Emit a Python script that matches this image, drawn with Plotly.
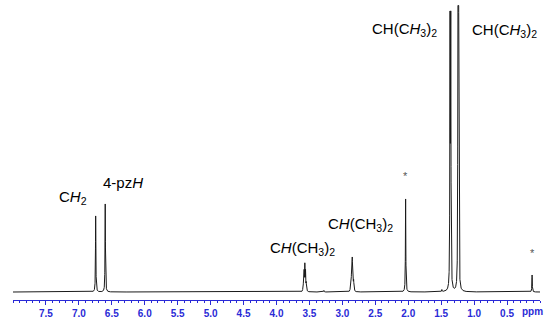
import numpy as np
import plotly.graph_objects as go

# ---- data (ppm, height of each line in arbitrary units) ----
peak_shift = [6.745, 6.600, 3.570, 2.850, 2.040, 1.360, 1.240, 0.120, 3.280, 1.490, 5.620]
peak_height = [76, 88, 25, 30, 93, 257, 262, 17, 1.5, 2.0, 0.6]
peak_mult = [1, 1, 7, 7, 1, 2, 2, 1, 1, 1, 1]   # 7 = septet, 2 = doublet
coupling_ppm = [0, 0, 0.0105, 0.0105, 0, 0.0110, 0.0110, 0, 0, 0, 0]
tick_vals = [7.5, 7.0, 6.5, 6.0, 5.5, 5.0, 4.5, 4.0, 3.5, 3.0, 2.5, 2.0, 1.5, 1.0, 0.5]
tick_text = ["7.5", "7.0", "6.5", "6.0", "5.5", "5.0", "4.5", "4.0", "3.5", "3.0", "2.5", "2.0", "1.5", "1.0", "0.5"]

labels = [
    ("C<i>H</i><sub>2</sub>", 72.8, 197),
    ("4-pz<i>H</i>", 123.3, 182),
    ("C<i>H</i>(CH<sub>3</sub>)<sub>2</sub>", 302.5, 248),
    ("C<i>H</i>(CH<sub>3</sub>)<sub>2</sub>", 360, 224),
    ("CH(C<i>H</i><sub>3</sub>)<sub>2</sub>", 404, 29),
    ("CH(C<i>H</i><sub>3</sub>)<sub>2</sub>", 504, 31),
]
stars = [(405.7, 176), (532, 253)]

# ---- build spectrum from the peak list ----
binom = {1: [1], 2: [1, 1], 7: [1, 6, 15, 20, 15, 6, 1]}
x = np.linspace(8.0, 0.0, 16001)
y = np.zeros_like(x)
hw = 0.0035
for s, h, m, j in zip(peak_shift, peak_height, peak_mult, coupling_ppm):
    w = np.array(binom[m], float)
    w = w / w.max()
    offs = (np.arange(m) - (m - 1) / 2) * j
    for o, wi in zip(offs, w):
        y += h * wi * hw**2 / ((x - s - o) ** 2 + hw**2)

W, H = 550, 325
L, R, T, B = 13, 10, 0, 25
pw, ph = W - L - R, H - T - B

fig = go.Figure()
fig.add_trace(go.Scatter(x=x, y=y, mode="lines",
                         line=dict(color="#1a1a1a", width=1), hoverinfo="skip"))

blue = "#2a2ad6"
fig.update_layout(
    width=W, height=H, margin=dict(l=L, r=R, t=T, b=B),
    paper_bgcolor="white", plot_bgcolor="white", showlegend=False,
    xaxis=dict(range=[8.0, 0.0], showgrid=False, zeroline=False,
               showline=True, linecolor=blue, linewidth=1,
               ticks="outside", ticklen=4, tickcolor=blue, tickwidth=1,
               tickvals=tick_vals, ticktext=tick_text,
               tickfont=dict(family="Liberation Sans", size=10, color=blue, weight="bold"),
               minor=dict(dtick=0.1, ticks="outside", ticklen=2, tickcolor=blue, tickwidth=1)),
    yaxis=dict(range=[-8, 292], visible=False, fixedrange=True),
)

for txt, px, py in labels:
    fig.add_annotation(x=(px - L) / pw, y=1 - (py - T) / ph, xref="paper", yref="paper",
                       text=txt, showarrow=False, xanchor="center", yanchor="middle",
                       font=dict(family="Liberation Sans", size=15, color="black"))
for px, py in stars:
    fig.add_annotation(x=(px - L) / pw, y=1 - (py - T) / ph, xref="paper", yref="paper",
                       text="*", showarrow=False, xanchor="center", yanchor="middle",
                       font=dict(family="Liberation Sans", size=11, color="#555555"))
fig.add_annotation(x=(532 - L) / pw, y=1 - (311 - T) / ph, xref="paper", yref="paper",
                   text="ppm", showarrow=False, xanchor="center", yanchor="middle",
                   font=dict(family="Liberation Sans", size=10, color=blue, weight="bold"))

fig.write_html("out.html", config={"displayModeBar": False, "staticPlot": True},
               post_script="document.body.style.margin='0px';document.body.style.overflow='hidden';")
